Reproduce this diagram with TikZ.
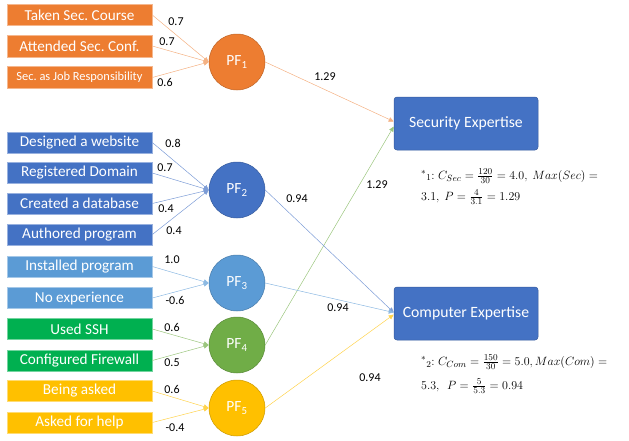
\documentclass[tikz,border=0pt]{standalone}
\usepackage[no-math]{fontspec}
\setmainfont{Carlito}
\frenchspacing
\usetikzlibrary{arrows.meta}
\definecolor{orng}{HTML}{ED7D31}
\definecolor{dblue}{HTML}{4472C4}
\definecolor{lblue}{HTML}{5B9BD5}
\definecolor{grn}{HTML}{00B050}
\definecolor{lgrn}{HTML}{70AD47}
\definecolor{yel}{HTML}{FFC000}
\tikzset{
  inbox/.style={draw=#1!55!white, line width=0.6pt, fill=#1, text=white, minimum width=145, minimum height=21, inner sep=0pt, font=\fontsize{15.2}{17}\selectfont},
  pfnode/.style={circle, draw=#1!80!black, line width=0.5pt, fill=#1, text=white, minimum size=56, inner sep=0pt, font=\fontsize{15.5}{17}\selectfont},
  expbox/.style={rounded corners=3pt, draw=dblue!80!black, line width=0.5pt, fill=dblue, text=white, minimum width=144, minimum height=53, inner sep=0pt, font=\fontsize{15.7}{18}\selectfont},
  conn/.style={draw=#1, line width=0.5pt, -{Triangle[length=5pt,width=4.5pt,fill=#1]}},
  wlab/.style={font=\fontsize{12}{14}\selectfont, text=black, inner sep=0pt},
  formula/.style={anchor=west, inner sep=0pt, font=\fontsize{12.6}{14}\selectfont}
}
\begin{document}
\begin{tikzpicture}[x=1pt,y=-1pt]
\useasboundingbox (0,0) rectangle (629,440);
% input boxes
\node[inbox=orng] (b1) at (79.5,15) {Taken Sec. Course};
\node[inbox=orng, minimum height=22] (b2) at (79.5,46) {Attended Sec. Conf.};
\node[inbox=orng, minimum height=22, font=\fontsize{12.4}{14}\selectfont] (b3) at (79.5,77.5) {Sec. as Job Responsibility};
\node[inbox=dblue] (b4) at (79.5,142.5) {Designed a website};
\node[inbox=dblue] (b5) at (79.5,173) {Registered Domain};
\node[inbox=dblue] (b6) at (79.5,203.5) {Created a database};
\node[inbox=dblue] (b7) at (79.5,234.5) {Authored program};
\node[inbox=lblue] (b8) at (79.5,266.5) {Installed program};
\node[inbox=lblue] (b9) at (79.5,298) {No experience};
\node[inbox=grn] (b10) at (79.5,329) {Used SSH};
\node[inbox=grn] (b11) at (79.5,360.5) {Configured Firewall};
\node[inbox=yel] (b12) at (79.5,391) {Being asked};
\node[inbox=yel] (b13) at (79.5,422.5) {Asked for help};
% PF circles
\node[pfnode=orng] (pf1) at (237,62) {PF\textsubscript{1}};
\node[pfnode=dblue] (pf2) at (237,190) {PF\textsubscript{2}};
\node[pfnode=lblue] (pf3) at (237,283) {PF\textsubscript{3}};
\node[pfnode=lgrn] (pf4) at (237,345) {PF\textsubscript{4}};
\node[pfnode=yel] (pf5) at (237,408) {PF\textsubscript{5}};
% expertise boxes
\node[expbox] (sec) at (466,123.5) {Security Expertise};
\node[expbox] (com) at (466,313.5) {Computer Expertise};
% connectors
\draw[conn=orng!60!white] (b1.east) -- (pf1.west);
\draw[conn=orng!60!white] (b2.east) -- (pf1.west);
\draw[conn=orng!60!white] (b3.east) -- (pf1.west);
\draw[conn=dblue!70!white] (b4.east) -- (pf2.west);
\draw[conn=dblue!70!white] (b5.east) -- (pf2.west);
\draw[conn=dblue!70!white] (b6.east) -- (pf2.west);
\draw[conn=dblue!70!white] (b7.east) -- (pf2.west);
\draw[conn=lblue!70!white] (b8.east) -- (pf3.west);
\draw[conn=lblue!70!white] (b9.east) -- (pf3.west);
\draw[conn=lgrn!70!white] (b10.east) -- (pf4.west);
\draw[conn=lgrn!70!white] (b11.east) -- (pf4.west);
\draw[conn=yel!70!white] (b12.east) -- (pf5.west);
\draw[conn=yel!70!white] (b13.east) -- (pf5.west);
\draw[conn=orng!60!white] (pf1.east) -- ([yshift=2pt]sec.west);
\draw[conn=lgrn!70!white] (pf4.east) -- ([yshift=-3pt]sec.west);
\draw[conn=dblue!70!white] (pf2.east) -- ([yshift=1pt]com.west);
\draw[conn=lblue!70!white] (pf3.east) -- ([yshift=1pt]com.west);
\draw[conn=yel!70!white] (pf5.east) -- ([yshift=-1pt]com.west);
% weight labels
\node[wlab] (w1) at (176,22) {0.7};
\node[wlab] (w2) at (167,42) {0.7};
\node[wlab] (w3) at (165,82) {0.6};
\node[wlab] (w4) at (173,143) {0.8};
\node[wlab] (w5) at (165,168) {0.7};
\node[wlab] (w6) at (166,209) {0.4};
\node[wlab] (w7) at (174,231) {0.4};
\node[wlab] (w8) at (172,260) {1.0};
\node[wlab] (w9) at (175,300) {-0.6};
\node[wlab] (w10) at (172,327) {0.6};
\node[wlab] (w11) at (172,363) {0.5};
\node[wlab] (w12) at (172,389) {0.6};
\node[wlab] (w13) at (175,428) {-0.4};
\node[wlab] (w14) at (325,77) {1.29};
\node[wlab] (w15) at (297,199) {0.94};
\node[wlab] (w16) at (377,185) {1.29};
\node[wlab] (w17) at (338,308) {0.94};
\node[wlab] (w18) at (370,378) {0.94};
% formulas
\node[formula] (f1a) at (421,176) {${}^{*}{}_{1}{:}\;C_{Sec}=\frac{120}{30}=4.0,\ Max(Sec)=$};
\node[formula] (f1b) at (421,197) {$3.1,\ P=\frac{4}{3.1}=1.29$};
\node[formula] (f2a) at (421,362) {${}^{*}{}_{2}{:}\;C_{Com}=\frac{150}{30}=5.0,Max(Com)=$};
\node[formula] (f2b) at (421,386) {$5.3,\ \ P=\frac{5}{5.3}=0.94$};
\end{tikzpicture}
\end{document}
